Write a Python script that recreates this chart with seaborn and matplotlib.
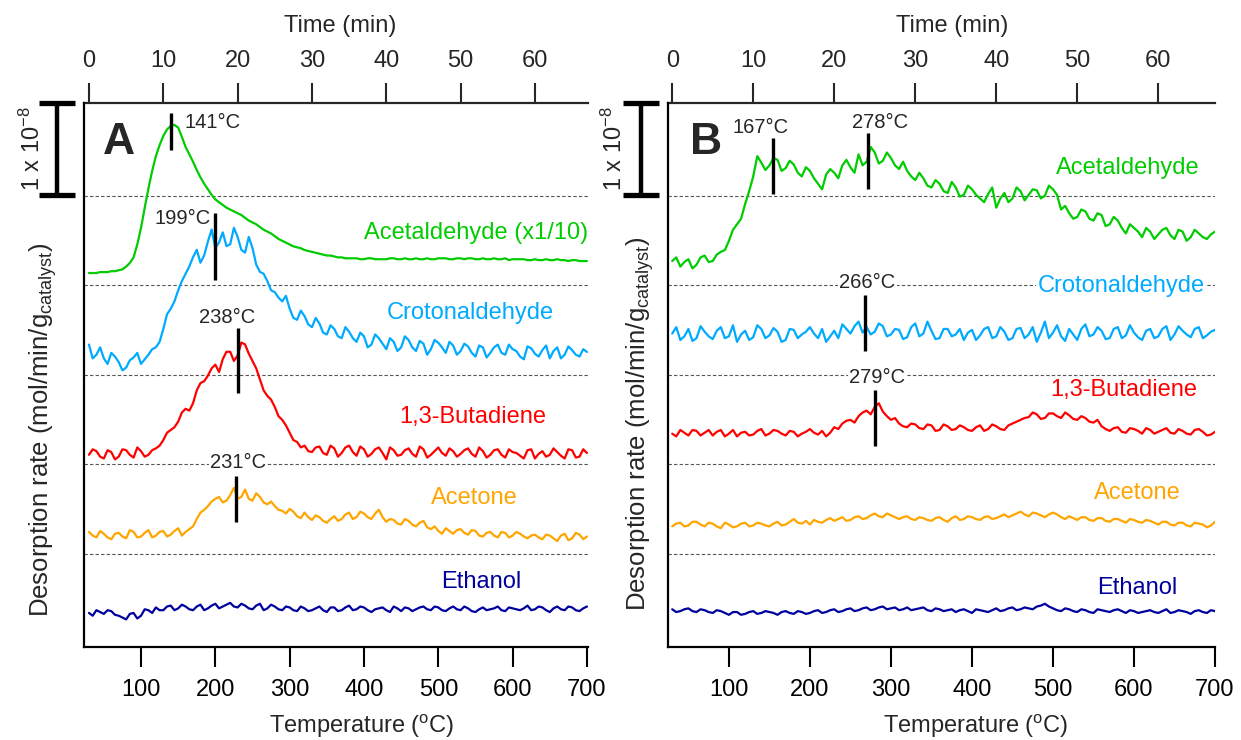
import numpy as np
import pandas as pd
import matplotlib
matplotlib.use("Agg")
import matplotlib.pyplot as plt
import matplotlib.transforms as mtransforms
import seaborn as sns

# ---------------- data (rates in units of 1e-8 mol/min/g, above each band base) ----------------
# values read every 10 degC (30..700) and at the in-between 5 degC points (35..695)
temps_main = list(range(30, 701, 10))
temps_mid = list(range(35, 700, 10))
species = ["Acetaldehyde", "Crotonaldehyde", "1,3-Butadiene", "Acetone", "Ethanol"]
colors = ["#00CC00", "#00AAFF", "#FF0000", "#FFA500", "#00009E"]

acetaldehyde_A = [0.13,0.13,0.14,0.15,0.16,0.20,0.30,0.62,1.05,1.40,
                  1.62,1.73,1.71,1.50,1.34,1.17,1.04,0.93,0.87,0.82,
                  0.78,0.73,0.68,0.63,0.58,0.53,0.48,0.44,0.41,0.38,
                  0.36,0.34,0.32,0.31,0.30,0.29,0.29,0.28,0.29,0.28,
                  0.28,0.29,0.28,0.28,0.29,0.28,0.28,0.29,0.29,0.28,
                  0.29,0.29,0.28,0.29,0.28,0.28,0.29,0.28,0.28,0.27,
                  0.28,0.27,0.27,0.28,0.27,0.27,0.26,0.26]
acetaldehyde_A_mid = [0.13,0.14,0.14,0.15,0.17,0.24,0.44,0.84,1.24,1.52,
                      1.69,1.74,1.61,1.42,1.25,1.10,0.98,0.90,0.84,0.80,
                      0.76,0.70,0.66,0.60,0.56,0.50,0.46,0.42,0.40,0.37,
                      0.35,0.33,0.32,0.30,0.29,0.29,0.28,0.29,0.28,0.28,
                      0.29,0.28,0.29,0.28,0.28,0.29,0.28,0.29,0.28,0.29,
                      0.28,0.29,0.28,0.28,0.29,0.28,0.27,0.28,0.28,0.27,
                      0.27,0.28,0.27,0.27,0.26,0.27,0.26]
crotonaldehyde_A = [0.33,0.22,0.18,0.24,0.14,0.08,0.19,0.12,0.22,0.30,
                    0.50,0.72,0.92,1.10,1.28,1.22,1.45,1.38,1.55,1.42,
                    1.50,1.33,1.38,1.12,1.02,0.90,0.80,0.72,0.60,0.64,
                    0.52,0.56,0.44,0.50,0.40,0.47,0.36,0.42,0.33,0.40,
                    0.28,0.36,0.30,0.38,0.26,0.34,0.28,0.35,0.24,0.32,
                    0.26,0.31,0.20,0.30,0.24,0.33,0.22,0.28,0.20,0.31,
                    0.23,0.27,0.18,0.30,0.22,0.27,0.20,0.25]
crotonaldehyde_A_mid = [0.18,0.30,0.12,0.20,0.05,0.16,0.24,0.17,0.28,0.36,
                        0.66,0.80,1.02,1.18,1.36,1.30,1.58,1.44,1.40,1.60,
                        1.36,1.50,1.20,1.10,0.92,0.84,0.86,0.62,0.70,0.55,
                        0.62,0.46,0.54,0.42,0.52,0.40,0.46,0.30,0.44,0.34,
                        0.40,0.26,0.42,0.30,0.37,0.22,0.38,0.30,0.36,0.22,
                        0.34,0.24,0.32,0.19,0.30,0.24,0.33,0.26,0.17,0.29,
                        0.20,0.32,0.26,0.18,0.31,0.22,0.28]
butadiene_A = [0.10,0.14,0.06,0.13,0.08,0.15,0.07,0.14,0.10,0.17,
               0.26,0.37,0.46,0.60,0.66,0.88,0.96,1.08,1.14,1.22,
               1.18,1.30,1.12,0.92,0.74,0.62,0.48,0.34,0.24,0.20,
               0.13,0.19,0.10,0.17,0.12,0.20,0.09,0.16,0.11,0.18,
               0.05,0.15,0.10,0.17,0.08,0.16,0.10,0.18,0.09,0.14,
               0.11,0.17,0.08,0.14,0.10,0.16,0.07,0.13,0.09,0.15,
               0.06,0.14,0.10,0.13,0.06,0.15,0.08,0.12]
butadiene_A_mid = [0.16,0.08,0.15,0.05,0.16,0.10,0.18,0.08,0.15,0.20,
                   0.34,0.40,0.56,0.58,0.80,0.90,1.04,1.00,1.22,1.12,
                   1.32,1.20,1.04,0.80,0.70,0.52,0.42,0.26,0.18,0.14,
                   0.18,0.12,0.20,0.08,0.18,0.13,0.19,0.08,0.16,0.12,
                   0.18,0.09,0.15,0.11,0.19,0.07,0.14,0.12,0.17,0.08,
                   0.15,0.11,0.18,0.07,0.15,0.10,0.16,0.12,0.06,0.16,
                   0.11,0.08,0.17,0.09,0.16,0.07,0.16]
acetone_A = [0.24,0.18,0.22,0.16,0.23,0.17,0.24,0.19,0.26,0.20,
             0.25,0.21,0.28,0.24,0.30,0.45,0.52,0.60,0.56,0.64,
             0.60,0.70,0.58,0.62,0.54,0.52,0.47,0.49,0.41,0.45,
             0.37,0.40,0.34,0.41,0.38,0.45,0.40,0.44,0.38,0.48,
             0.35,0.37,0.32,0.36,0.30,0.36,0.27,0.25,0.28,0.22,
             0.27,0.21,0.25,0.19,0.24,0.18,0.23,0.20,0.22,0.17,
             0.21,0.16,0.20,0.14,0.22,0.17,0.21,0.19]
acetone_A_mid = [0.20,0.25,0.18,0.22,0.19,0.26,0.18,0.23,0.18,0.24,
                 0.19,0.25,0.20,0.27,0.38,0.48,0.57,0.62,0.58,0.72,
                 0.62,0.60,0.66,0.56,0.57,0.48,0.44,0.46,0.39,0.40,
                 0.42,0.36,0.38,0.36,0.43,0.38,0.46,0.40,0.44,0.40,
                 0.38,0.33,0.38,0.32,0.34,0.29,0.30,0.22,0.25,0.26,
                 0.23,0.26,0.20,0.23,0.20,0.24,0.18,0.24,0.19,0.20,
                 0.18,0.21,0.17,0.20,0.15,0.23,0.16]
ethanol_A = [0.37,0.40,0.36,0.39,0.34,0.30,0.37,0.34,0.40,0.43,
             0.40,0.45,0.42,0.44,0.40,0.46,0.42,0.47,0.44,0.48,
             0.43,0.45,0.41,0.47,0.42,0.44,0.40,0.43,0.39,0.42,
             0.40,0.44,0.38,0.43,0.40,0.45,0.41,0.43,0.38,0.42,
             0.40,0.44,0.39,0.42,0.41,0.44,0.40,0.43,0.39,0.44,
             0.40,0.42,0.38,0.43,0.41,0.44,0.39,0.42,0.40,0.45,
             0.41,0.43,0.38,0.44,0.40,0.43,0.39,0.44]
ethanol_A_mid = [0.34,0.38,0.40,0.35,0.32,0.36,0.31,0.41,0.37,0.40,
                 0.44,0.40,0.46,0.41,0.44,0.40,0.45,0.42,0.46,0.44,
                 0.47,0.42,0.45,0.40,0.46,0.41,0.44,0.40,0.44,0.39,
                 0.42,0.40,0.43,0.39,0.43,0.40,0.44,0.40,0.41,0.43,
                 0.38,0.42,0.43,0.39,0.43,0.41,0.44,0.40,0.42,0.41,
                 0.44,0.39,0.41,0.40,0.42,0.40,0.43,0.41,0.42,0.40,
                 0.44,0.40,0.42,0.41,0.44,0.40,0.42]

acetaldehyde_B = [0.26,0.20,0.28,0.22,0.32,0.26,0.36,0.48,0.66,0.88,
                  1.18,1.33,1.30,1.36,1.27,1.31,1.18,1.24,1.10,1.20,
                  1.22,1.30,1.28,1.42,1.34,1.44,1.35,1.38,1.26,1.24,
                  1.14,1.16,1.06,1.10,1.00,1.06,0.98,1.04,0.94,0.99,
                  0.84,1.00,0.94,1.02,0.98,1.03,0.97,1.04,0.82,0.78,
                  0.74,0.80,0.70,0.76,0.66,0.70,0.56,0.62,0.52,0.58,
                  0.55,0.62,0.50,0.58,0.52,0.56,0.50,0.58]
acetaldehyde_B_mid = [0.30,0.25,0.18,0.30,0.25,0.33,0.38,0.60,0.72,1.02,
                      1.40,1.25,1.38,1.24,1.35,1.22,1.28,1.16,1.04,1.26,
                      1.16,1.36,1.22,1.30,1.50,1.32,1.44,1.30,1.34,1.18,
                      1.22,1.08,1.14,1.02,1.12,0.96,1.08,0.98,0.90,1.06,
                      0.94,0.90,1.06,0.92,1.04,0.94,1.08,0.98,0.86,0.72,
                      0.82,0.72,0.78,0.64,0.74,0.62,0.66,0.58,0.62,0.50,
                      0.60,0.54,0.60,0.48,0.60,0.52,0.55]
crotonaldehyde_B = [0.45,0.38,0.50,0.40,0.47,0.39,0.52,0.42,0.36,0.48,
                    0.41,0.50,0.43,0.47,0.38,0.49,0.44,0.52,0.40,0.36,
                    0.48,0.55,0.45,0.58,0.52,0.47,0.53,0.44,0.49,0.41,
                    0.56,0.45,0.48,0.40,0.50,0.44,0.38,0.49,0.43,0.52,
                    0.42,0.47,0.40,0.51,0.44,0.36,0.58,0.46,0.42,0.50,
                    0.38,0.55,0.44,0.48,0.40,0.52,0.43,0.46,0.38,0.50,
                    0.42,0.53,0.44,0.48,0.41,0.52,0.43,0.49]
crotonaldehyde_B_mid = [0.52,0.42,0.37,0.53,0.42,0.48,0.40,0.54,0.44,0.38,
                        0.54,0.40,0.51,0.36,0.50,0.40,0.47,0.45,0.50,0.42,
                        0.40,0.50,0.53,0.46,0.44,0.56,0.42,0.50,0.39,0.52,
                        0.42,0.58,0.39,0.50,0.42,0.50,0.46,0.38,0.50,0.40,
                        0.52,0.38,0.50,0.40,0.52,0.46,0.40,0.54,0.37,0.44,
                        0.50,0.42,0.52,0.39,0.50,0.40,0.54,0.41,0.48,0.40,
                        0.50,0.38,0.53,0.44,0.50,0.40,0.47]
butadiene_B = [0.33,0.37,0.31,0.36,0.34,0.31,0.37,0.33,0.30,0.35,
               0.32,0.38,0.33,0.36,0.31,0.35,0.33,0.38,0.32,0.30,
               0.40,0.44,0.48,0.52,0.58,0.62,0.57,0.48,0.44,0.40,
               0.43,0.38,0.42,0.37,0.41,0.38,0.40,0.36,0.42,0.38,
               0.41,0.37,0.44,0.48,0.51,0.54,0.50,0.55,0.50,0.53,
               0.48,0.50,0.45,0.41,0.36,0.40,0.34,0.38,0.33,0.37,
               0.35,0.39,0.33,0.36,0.32,0.38,0.31,0.35]
butadiene_B_mid = [0.30,0.34,0.37,0.31,0.37,0.35,0.30,0.37,0.34,0.31,
                   0.36,0.31,0.37,0.33,0.36,0.30,0.35,0.34,0.36,0.34,
                   0.38,0.47,0.45,0.56,0.54,0.66,0.52,0.50,0.41,0.44,
                   0.39,0.43,0.36,0.43,0.37,0.42,0.37,0.40,0.36,0.43,
                   0.38,0.42,0.46,0.50,0.56,0.49,0.55,0.52,0.56,0.49,
                   0.52,0.46,0.48,0.38,0.39,0.35,0.39,0.36,0.39,0.33,
                   0.37,0.34,0.38,0.33,0.37,0.35,0.32]
acetone_B = [0.30,0.34,0.31,0.35,0.30,0.33,0.28,0.32,0.30,0.34,
             0.31,0.33,0.30,0.35,0.32,0.38,0.33,0.32,0.35,0.37,
             0.36,0.40,0.37,0.41,0.39,0.44,0.40,0.42,0.38,0.41,
             0.37,0.39,0.36,0.40,0.35,0.41,0.38,0.40,0.37,0.41,
             0.39,0.43,0.42,0.46,0.41,0.44,0.40,0.45,0.40,0.41,
             0.37,0.40,0.36,0.39,0.35,0.38,0.34,0.37,0.34,0.36,
             0.32,0.35,0.31,0.34,0.30,0.33,0.29,0.35]
acetone_B_mid = [0.33,0.30,0.35,0.32,0.34,0.30,0.34,0.29,0.33,0.30,
                 0.34,0.31,0.33,0.31,0.35,0.34,0.36,0.37,0.34,0.39,
                 0.38,0.36,0.40,0.38,0.42,0.41,0.44,0.40,0.40,0.38,
                 0.40,0.37,0.39,0.37,0.39,0.37,0.41,0.38,0.40,0.38,
                 0.41,0.40,0.44,0.43,0.45,0.42,0.43,0.43,0.38,0.39,
                 0.40,0.37,0.39,0.36,0.38,0.36,0.38,0.35,0.37,0.34,
                 0.35,0.32,0.34,0.31,0.34,0.32,0.31]
ethanol_B = [0.41,0.39,0.42,0.38,0.40,0.37,0.39,0.35,0.38,0.36,
             0.39,0.37,0.38,0.35,0.39,0.36,0.38,0.37,0.40,0.38,
             0.41,0.39,0.42,0.40,0.43,0.41,0.44,0.42,0.40,0.43,
             0.41,0.43,0.39,0.41,0.40,0.38,0.41,0.37,0.40,0.38,
             0.42,0.40,0.43,0.41,0.42,0.44,0.47,0.42,0.39,0.41,
             0.38,0.40,0.37,0.40,0.38,0.41,0.37,0.39,0.38,0.40,
             0.37,0.41,0.38,0.39,0.36,0.40,0.37,0.39]
ethanol_B_mid = [0.38,0.41,0.39,0.41,0.38,0.40,0.37,0.38,0.35,0.38,
                 0.36,0.39,0.37,0.38,0.37,0.39,0.36,0.39,0.37,0.40,
                 0.38,0.41,0.39,0.42,0.40,0.43,0.41,0.43,0.41,0.40,
                 0.42,0.40,0.42,0.39,0.41,0.40,0.39,0.41,0.39,0.40,
                 0.39,0.42,0.40,0.43,0.41,0.45,0.44,0.40,0.42,0.39,
                 0.41,0.38,0.41,0.39,0.40,0.39,0.40,0.37,0.39,0.38,
                 0.39,0.37,0.40,0.38,0.39,0.38,0.40]

# stacking offsets (band base of each trace) and dashed separators
band_offsets = [3.935, 2.957, 1.989, 1.011, 0.0]
separators = [4.902, 3.935, 2.957, 1.989, 1.011]

labels_A = ["Acetaldehyde (x1/10)", "Crotonaldehyde", "1,3-Butadiene", "Acetone", "Ethanol"]
labels_B = ["Acetaldehyde", "Crotonaldehyde", "1,3-Butadiene", "Acetone", "Ethanol"]

peak_text_A = ["141°C", "199°C", "238°C", "231°C"]
peak_T_A = [141, 200, 231, 228]
peak_text_B = ["167°C", "278°C", "266°C", "279°C"]
peak_T_B = [155, 272, 268, 280]

temp_ticks = [100, 200, 300, 400, 500, 600, 700]
time_ticks = [0, 10, 20, 30, 40, 50, 60]

# ---------------- style ----------------
sns.set_style("white")
plt.rcParams["font.family"] = ["Liberation Sans", "DejaVu Sans"]
plt.rcParams["mathtext.default"] = "regular"
FS = 17
FS_YLAB = 18.5
FS_PEAK = 14.5

W, H = 1241, 740
fig = plt.figure(figsize=(W / 100, H / 100), dpi=100)
axA = fig.add_axes([84 / W, 1 - 647 / H, 504 / W, 544 / H])
axB = fig.add_axes([668 / W, 1 - 647 / H, 547 / W, 544 / H])


def build_frame(pairs):
    rows = []
    for name, (main, mid), off in zip(species, pairs, band_offsets):
        pts = list(zip(temps_main, main)) + list(zip(temps_mid, mid))
        pts.sort(key=lambda p: p[0])
        for t, v in pts:
            rows.append({"T": t, "y": v + off, "species": name})
    return pd.DataFrame(rows)


dfA = build_frame([(acetaldehyde_A, acetaldehyde_A_mid), (crotonaldehyde_A, crotonaldehyde_A_mid),
                   (butadiene_A, butadiene_A_mid), (acetone_A, acetone_A_mid),
                   (ethanol_A, ethanol_A_mid)])
dfB = build_frame([(acetaldehyde_B, acetaldehyde_B_mid), (crotonaldehyde_B, crotonaldehyde_B_mid),
                   (butadiene_B, butadiene_B_mid), (acetone_B, acetone_B_mid),
                   (ethanol_B, ethanol_B_mid)])

palette = dict(zip(species, colors))

YTOP = 544 / 92.0


def style_axes(ax, xlim, ylabel_xy, bar_x, bar_label_x):
    for s in ["right", "top"]:
        ax.spines[s].set_visible(False)
    ax.spines["left"].set_linewidth(1.6)
    ax.spines["bottom"].set_linewidth(1.6)
    ax.spines["left"].set_color("black")
    ax.spines["bottom"].set_color("black")
    ax.set_xlim(*xlim)
    ax.set_ylim(0, YTOP)
    ax.set_yticks([])
    ax.set_xticks(temp_ticks)
    ax.tick_params(axis="x", direction="out", length=14.4, width=1.5, labelsize=FS,
                   pad=9, colors="black", bottom=True)
    ax.set_xlabel("")
    ax.set_ylabel("")
    for yv in separators:
        ax.axhline(yv, color="#555555", lw=0.8, ls=(0, (3, 2)), zorder=1)

    sec = ax.secondary_xaxis("top", functions=(lambda T: (np.asarray(T) - 30) / 10.0,
                                               lambda t: np.asarray(t) * 10.0 + 30))
    sec.set_xticks(time_ticks)
    sec.tick_params(axis="x", direction="out", length=14.4, width=1.5, labelsize=FS, pad=8)
    sec.spines["top"].set_linewidth(1.6)

    # scale bar (1 x 10^-8)
    tr = mtransforms.blended_transform_factory(ax.transAxes, ax.transData)
    x0, x1, xm = bar_x
    ax.plot([xm, xm], [YTOP - 1.0, YTOP], color="black", lw=3.2, transform=tr,
            clip_on=False, solid_capstyle="butt")
    for yy in (YTOP - 1.0, YTOP):
        ax.plot([x0, x1], [yy, yy], color="black", lw=3.8, transform=tr,
                clip_on=False, solid_capstyle="butt")
    ax.text(bar_label_x, YTOP - 0.5, "1 x 10$^{-8}$", rotation=90, transform=tr,
            ha="center", va="center", fontsize=FS)

    ax.text(ylabel_xy[0], ylabel_xy[1], "Desorption rate (mol/min/g$_{catalyst}$)",
            rotation=90, transform=ax.transAxes, ha="center", va="center", fontsize=FS_YLAB)


for ax, df in ((axA, dfA), (axB, dfB)):
    sns.lineplot(data=df, x="T", y="y", hue="species", palette=palette, legend=False,
                 estimator=None, sort=False, lw=1.6, ax=ax, zorder=3)

style_axes(axA, (23.3, 701.4), (-0.081, 0.399), (-0.0893, -0.0179, -0.0536), -0.103)
style_axes(axB, (24.8, 700.0), (-0.051, 0.41), (-0.082, -0.0165, -0.0494), -0.099)

# axis titles
fig.text(362 / W, 1 - 726 / H, "Temperature ($^{o}$C)", ha="center", va="center", fontsize=FS)
fig.text(976 / W, 1 - 726 / H, "Temperature ($^{o}$C)", ha="center", va="center", fontsize=FS)
fig.text(340 / W, 1 - 26 / H, "Time (min)", ha="center", va="center", fontsize=FS)
fig.text(952 / W, 1 - 26 / H, "Time (min)", ha="center", va="center", fontsize=FS)

# panel letters
axA.text(70, 5.48, "A", fontsize=32, fontweight="bold", ha="center", va="center")
axB.text(72, 5.48, "B", fontsize=32, fontweight="bold", ha="center", va="center")

white = dict(facecolor="white", edgecolor="none", pad=1.0)

# species labels
posA = [(701, 4.50, "right"), (542.6, 3.63, "center"), (546.7, 2.50, "center"),
        (548, 1.62, "center"), (557.4, 0.71, "center")]
for (x, y, ha), lab, c in zip(posA, labels_A, colors):
    axA.text(x, y, lab, color=c, fontsize=FS, ha=ha, va="center", zorder=5)
posB = [(592.7, 5.21, None), (584, 3.92, white), (587, 2.79, None),
        (603.8, 1.67, None), (604.4, 0.64, None)]
for (x, y, bb), lab, c in zip(posB, labels_B, colors):
    axB.text(x, y, lab, color=c, fontsize=FS, ha="center", va="center", bbox=bb, zorder=5)

# peak markers
mark_A = [(5.40, 5.80), (3.99, 4.72), (2.76, 3.47), (1.36, 1.86)]
text_A = [(159, 5.70, "left", None), (194, 4.66, "right", None),
          (215.7, 3.58, "center", None), (230.5, 2.00, "center", white)]
for T, (y0, y1), (tx, ty, ha, bb), lab in zip(peak_T_A, mark_A, text_A, peak_text_A):
    axA.plot([T, T], [y0, y1], color="black", lw=2.4, zorder=6, solid_capstyle="butt")
    axA.text(tx, ty, lab, fontsize=FS_PEAK, ha=ha, va="center", bbox=bb, zorder=5)

mark_B = [(4.92, 5.53), (4.98, 5.59), (3.22, 3.83), (2.18, 2.79)]
text_B = [(139.6, 5.65, "center", None), (286.5, 5.70, "center", None),
          (270.5, 3.96, "center", white), (282.8, 2.93, "center", white)]
for T, (y0, y1), (tx, ty, ha, bb), lab in zip(peak_T_B, mark_B, text_B, peak_text_B):
    axB.plot([T, T], [y0, y1], color="black", lw=2.4, zorder=6, solid_capstyle="butt")
    axB.text(tx, ty, lab, fontsize=FS_PEAK, ha=ha, va="center", bbox=bb, zorder=5)

fig.savefig("out.png", dpi=100, facecolor="white")
